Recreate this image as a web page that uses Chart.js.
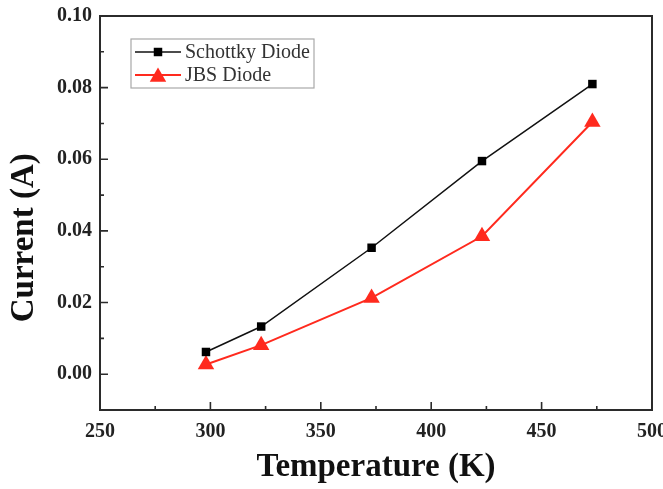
<!DOCTYPE html>
<html>
<head>
<meta charset="utf-8">
<script src="https://cdn.jsdelivr.net/npm/chart.js@4.4.1/dist/chart.umd.min.js"></script>
<style>
    html, body { margin: 0; padding: 0; background: #ffffff; }
    #wrap { width: 663px; height: 489px; }
</style>
</head>
<body>
<div id="wrap"><canvas id="graph"></canvas></div>
<script>
// values
const temperatures = [298, 323, 373, 423, 473];
const schottkyCurrent = [0.0062, 0.0133, 0.0353, 0.0595, 0.0810];
const jbsCurrent = [0.0027, 0.0081, 0.0213, 0.0385, 0.0704];
const seriesNames = ['Schottky Diode', 'JBS Diode'];

const xTickValues = [250, 300, 350, 400, 450, 500];
const xMinorValues = [275, 325, 375, 425, 475];
const yTickValues = [0.00, 0.02, 0.04, 0.06, 0.08, 0.10];
const yMinorValues = [0.01, 0.03, 0.05, 0.07, 0.09];

const AXIS_COLOR = '#2b2b2b';
const SERIF = '"Liberation Serif", "Times New Roman", serif';

const toPoints = (ys) => temperatures.map((t, i) => ({x: t, y: ys[i]}));

/**
 * Frame round the plot area plus inward ticks (major and minor)
 */
const frameTicks = {
    id: 'frameTicks',
    afterDatasetsDraw(chart)
    {
        const {ctx, chartArea: a, scales: {x, y}} = chart;
        ctx.save();
        ctx.strokeStyle = AXIS_COLOR;
        ctx.lineWidth = 2;
        ctx.strokeRect(a.left, a.top, a.right - a.left, a.bottom - a.top);

        ctx.lineWidth = 1.6;
        ctx.beginPath();
        const tickX = (v, len) => {
            const px = x.getPixelForValue(v);
            ctx.moveTo(px, a.bottom);
            ctx.lineTo(px, a.bottom - len);
        };
        const tickY = (v, len) => {
            const py = y.getPixelForValue(v);
            ctx.moveTo(a.left, py);
            ctx.lineTo(a.left + len, py);
        };
        xTickValues.forEach(v => tickX(v, 8));
        xMinorValues.forEach(v => tickX(v, 4));
        yTickValues.forEach(v => tickY(v, 8));
        yMinorValues.forEach(v => tickY(v, 4));
        ctx.stroke();
        ctx.restore();
    }
};

/**
 * Boxed legend sitting inside the plot, top left
 */
const boxLegend = {
    id: 'boxLegend',
    afterDraw(chart)
    {
        const {ctx, chartArea: a} = chart;
        const left = a.left + 31;
        const top = a.top + 23;
        const width = 183;
        const rowH = 23;

        ctx.save();
        ctx.strokeStyle = '#a8a8a8';
        ctx.lineWidth = 1.2;
        ctx.strokeRect(left, top, width, 49);

        chart.data.datasets.forEach((ds, i) => {
            const cy = top + 13 + i * rowH;
            ctx.strokeStyle = ds.borderColor;
            ctx.lineWidth = ds.borderWidth;
            ctx.beginPath();
            ctx.moveTo(left + 4, cy);
            ctx.lineTo(left + 50, cy);
            ctx.stroke();

            ctx.fillStyle = ds.pointBackgroundColor;
            Chart.helpers.drawPoint(ctx, {
                pointStyle: ds.pointStyle,
                radius: ds.pointRadius,
                rotation: 0,
                borderWidth: 0
            }, left + 27, cy + (ds.pointStyle === 'triangle' ? 2 : 0));

            ctx.fillStyle = '#333333';
            ctx.font = '20px ' + SERIF;
            ctx.textAlign = 'left';
            ctx.textBaseline = 'middle';
            ctx.fillText(ds.label, left + 54, cy + 1);
        });
        ctx.restore();
    }
};

new Chart(document.querySelector('#graph'),
{
    type: 'scatter',
    data:
    {
        datasets:
        [
            {
                label: seriesNames[0],
                data: toPoints(schottkyCurrent),
                showLine: true,
                borderColor: '#111111',
                borderWidth: 1.5,
                pointStyle: 'rect',
                pointRadius: 6,
                pointBackgroundColor: '#000000',
                pointBorderWidth: 0
            },
            {
                label: seriesNames[1],
                data: toPoints(jbsCurrent),
                showLine: true,
                borderColor: '#ff2a1e',
                borderWidth: 2,
                pointStyle: 'triangle',
                pointRadius: 9.5,
                pointBackgroundColor: '#ff2a1e',
                pointBorderWidth: 0
            }
        ]
    },
    options:
    {
        responsive: true,
        maintainAspectRatio: false,
        animation: false,
        devicePixelRatio: 1,
        layout: {padding: {left: 0, right: 11, top: 16, bottom: 0}},
        plugins:
        {
            legend: {display: false},
            tooltip: {enabled: false}
        },
        scales:
        {
            x:
            {
                type: 'linear',
                min: 250,
                max: 500,
                afterBuildTicks: (scale) => { scale.ticks = xTickValues.map(v => ({value: v})); },
                afterFit: (scale) =>
                {
                    scale.height = 79;
                    scale.paddingLeft = 0;
                    scale.paddingRight = 0;
                },
                grid: {display: false, drawTicks: false},
                border: {display: false},
                ticks:
                {
                    padding: 10,
                    color: '#222222',
                    font: {family: SERIF, size: 20, weight: 'bold'},
                    maxRotation: 0,
                    autoSkip: false,
                    callback: (v) => String(v)
                },
                title:
                {
                    display: true,
                    text: 'Temperature (K)',
                    color: '#111111',
                    font: {family: SERIF, size: 33, weight: 'bold'},
                    padding: {top: 0, bottom: 2}
                }
            },
            y:
            {
                type: 'linear',
                min: -0.01,
                max: 0.10,
                afterBuildTicks: (scale) => { scale.ticks = yTickValues.map(v => ({value: v})); },
                afterFit: (scale) =>
                {
                    scale.width = 100;
                    scale.paddingTop = 0;
                    scale.paddingBottom = 0;
                },
                grid: {display: false, drawTicks: false},
                border: {display: false},
                ticks:
                {
                    padding: 8,
                    color: '#222222',
                    font: {family: SERIF, size: 20, weight: 'bold'},
                    callback: (v) => v.toFixed(2)
                },
                title:
                {
                    display: true,
                    // trailing spaces nudge the rotated title down, as in the source figure
                    text: 'Current (A)      ',
                    color: '#111111',
                    font: {family: SERIF, size: 33, weight: 'bold'},
                    padding: {top: 5, bottom: 0}
                }
            }
        }
    },
    plugins: [frameTicks, boxLegend]
});
</script>
</body>
</html>
